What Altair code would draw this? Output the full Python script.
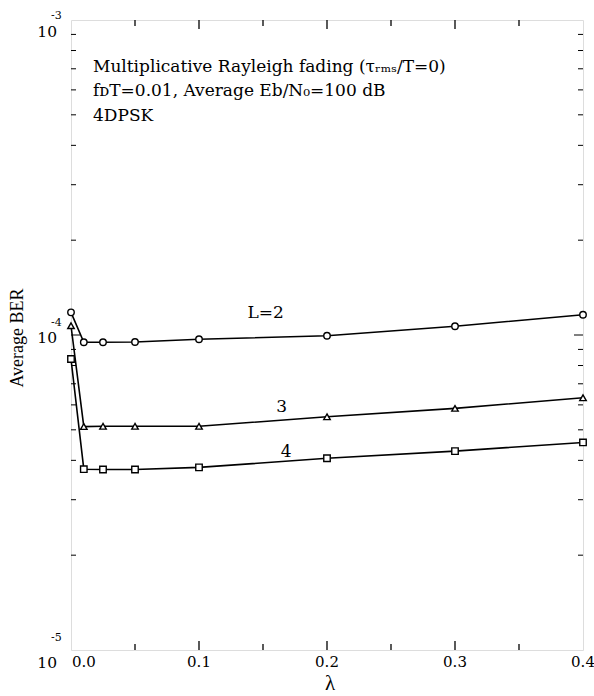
import altair as alt
import pandas as pd

# ---------------- data ----------------
x_vals = [0.0, 0.01, 0.025, 0.05, 0.1, 0.2, 0.3, 0.4]
ber_L2 = [1.18e-4, 9.48e-5, 9.48e-5, 9.50e-5, 9.69e-5, 9.95e-5, 1.066e-4, 1.16e-4]
ber_L3 = [1.07e-4, 5.12e-5, 5.13e-5, 5.13e-5, 5.13e-5, 5.50e-5, 5.85e-5, 6.32e-5]
ber_L4 = [8.39e-5, 3.75e-5, 3.74e-5, 3.74e-5, 3.80e-5, 4.06e-5, 4.28e-5, 4.56e-5]

series_names = ["L=2", "L=3", "L=4"]
marker_shapes = ["circle", "triangle-up", "square"]

curve_label_text = ["L=2", "3", "4"]
curve_label_x = [0.152, 0.1646, 0.168]
curve_label_y = [1.175e-4, 5.92e-5, 4.26e-5]

x_major = [0.0, 0.1, 0.2, 0.3, 0.4]
x_minor = [0.05, 0.15, 0.25, 0.35]
x_tick_labels = ["0.0", "0.1", "0.2", "0.3", "0.4"]

y_decades = [1e-3, 1e-4, 1e-5]
y_exponents = ["-3", "-4", "-5"]
y_minor = [2e-5, 3e-5, 4e-5, 5e-5, 6e-5, 7e-5, 8e-5, 9e-5,
           2e-4, 3e-4, 4e-4, 5e-4, 6e-4, 7e-4, 8e-4, 9e-4]

annotation_lines = [
    "Multiplicative Rayleigh fading (τᵣₘₛ/T=0)",
    "fᴅT=0.01, Average Eb/N₀=100 dB",
    "4DPSK",
]

# ---------------- layout ----------------
W, H = 512, 630
SERIF = "Liberation Serif"
WIDE = "DejaVu Serif"

rows = []
for name, vals in zip(series_names, [ber_L2, ber_L3, ber_L4]):
    for xv, yv in zip(x_vals, vals):
        rows.append({"x": xv, "ber": yv, "series": name})
df = pd.DataFrame(rows)

xs = alt.Scale(domain=[0, 0.4], nice=False, zero=False)
ys = alt.Scale(type="log", domain=[1e-5, 1e-3], nice=False)

X = lambda f: alt.X(f, type="quantitative", scale=xs, axis=None)
Y = lambda f: alt.Y(f, type="quantitative", scale=ys, axis=None)

lines = alt.Chart(df).mark_line(color="black", strokeWidth=1.6).encode(
    x=X("x"), y=Y("ber"), detail="series:N"
)
points = alt.Chart(df).mark_point(
    filled=True, fill="white", stroke="black", strokeWidth=1.4, size=42, opacity=1
).encode(
    x=X("x"), y=Y("ber"),
    shape=alt.Shape("series:N", scale=alt.Scale(domain=series_names, range=marker_shapes), legend=None),
)

lab_df = pd.DataFrame({"t": curve_label_text, "x": curve_label_x, "y": curve_label_y})
curve_labels = alt.Chart(lab_df).mark_text(
    font=WIDE, fontSize=17, color="black", baseline="middle", align="center"
).encode(x=X("x"), y=Y("y"), text="t:N")

# ticks
ymin_df = pd.DataFrame({"v": y_minor})
ymaj_df = pd.DataFrame({"v": [1e-4]})
xmaj_df = pd.DataFrame({"v": x_major[1:-1]})
xmin_df = pd.DataFrame({"v": x_minor})

tick_layers = [
    alt.Chart(ymin_df).mark_rule(color="black", strokeWidth=1).encode(y=Y("v"), x=alt.value(0), x2=alt.value(5)),
    alt.Chart(ymin_df).mark_rule(color="black", strokeWidth=1).encode(y=Y("v"), x=alt.value(W), x2=alt.value(W - 5)),
    alt.Chart(ymaj_df).mark_rule(color="black", strokeWidth=1).encode(y=Y("v"), x=alt.value(0), x2=alt.value(9)),
    alt.Chart(ymaj_df).mark_rule(color="black", strokeWidth=1).encode(y=Y("v"), x=alt.value(W), x2=alt.value(W - 9)),
    alt.Chart(xmaj_df).mark_rule(color="black", strokeWidth=1.3).encode(x=X("v"), y=alt.value(H), y2=alt.value(H - 9)),
    alt.Chart(xmaj_df).mark_rule(color="black", strokeWidth=1.3).encode(x=X("v"), y=alt.value(0), y2=alt.value(9)),
    alt.Chart(xmin_df).mark_rule(color="black", strokeWidth=1.3).encode(x=X("v"), y=alt.value(H), y2=alt.value(H - 6)),
    alt.Chart(xmin_df).mark_rule(color="black", strokeWidth=1.3).encode(x=X("v"), y=alt.value(0), y2=alt.value(6)),
]

# x tick labels
xl_df = pd.DataFrame({"v": x_major, "t": x_tick_labels})
xlab_first = alt.Chart(xl_df.iloc[:1]).mark_text(
    font=WIDE, fontSize=15, color="black", align="left", baseline="top", dx=1
).encode(x=X("v"), y=alt.value(H + 5), text="t:N")
xlab_rest = alt.Chart(xl_df.iloc[1:]).mark_text(
    font=WIDE, fontSize=15, color="black", align="center", baseline="top", dx=0
).encode(x=X("v"), y=alt.value(H + 5), text="t:N")

# y decade labels 10^n
ylab_layers = []
ten_dy = [12, 2.5, 13]
sup_dy = [-4, -12, -12]
for dec, ex, d1, d2 in zip(y_decades, y_exponents, ten_dy, sup_dy):
    d = pd.DataFrame({"v": [dec], "t": ["10"], "e": [ex]})
    ylab_layers.append(
        alt.Chart(d).mark_text(font=WIDE, fontSize=15.5, color="black", align="right", baseline="middle", dy=d1)
        .encode(y=Y("v"), x=alt.value(-14), text="t:N")
    )
    ylab_layers.append(
        alt.Chart(d).mark_text(font=WIDE, fontSize=11, color="black", align="left", baseline="middle", dy=d2)
        .encode(y=Y("v"), x=alt.value(-20), text="e:N")
    )

# titles
dummy = pd.DataFrame({"a": [0]})
ytitle = alt.Chart(dummy).mark_text(
    font=SERIF, fontSize=18, color="black", angle=270, align="center", baseline="middle", text="Average BER"
).encode(x=alt.value(-53), y=alt.value(318))
xtitle = alt.Chart(dummy).mark_text(
    font=SERIF, fontSize=21, color="black", align="center", baseline="middle", text="λ"
).encode(x=alt.value(259), y=alt.value(664))

ann_layers = []
for i, line in enumerate(annotation_lines):
    ann_layers.append(
        alt.Chart(dummy).mark_text(
            font=WIDE, fontSize=17, color="black", align="left", baseline="alphabetic", text=line
        ).encode(x=alt.value(22), y=alt.value(51.7 + 24.7 * i))
    )

chart = alt.layer(
    *tick_layers, lines, points, curve_labels, xlab_first, xlab_rest,
    *ylab_layers, ytitle, xtitle, *ann_layers
).properties(
    width=W, height=H,
    autosize=alt.AutoSizeParams(type="none"),
    padding={"left": 71, "top": 20, "right": 11, "bottom": 46},
).configure_view(stroke="black", strokeWidth=1.6).configure(background="white")

chart.save("out.html", embed_options={"renderer": "svg", "actions": False})
